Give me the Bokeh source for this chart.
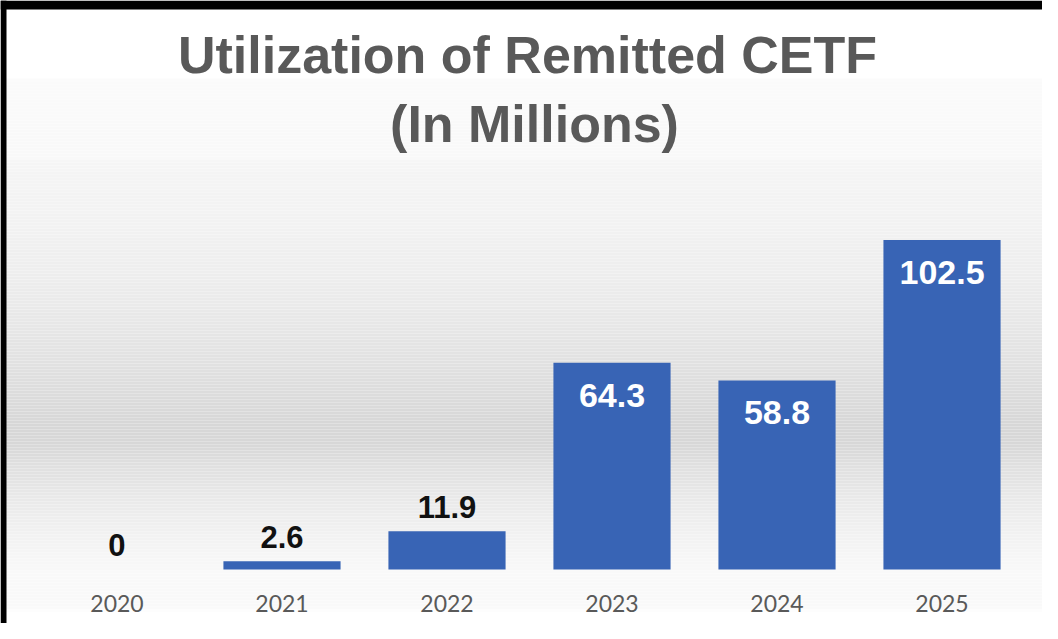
import numpy as np
from bokeh.plotting import figure
from bokeh.models import (ColumnDataSource, FixedTicker, Label, BoxAnnotation, Range1d)
from bokeh.core.properties import value
from bokeh.embed import file_html
from bokeh.resources import INLINE

# ---- data ----
years = ["2020", "2021", "2022", "2023", "2024", "2025"]
amounts = [0, 2.6, 11.9, 64.3, 58.8, 102.5]
title_line1 = "Utilization of Remitted CETF"
title_line2 = "(In Millions)"

idx = list(range(len(years)))
labels = [f"{v:g}" for v in amounts]
inside = [v > 30 for v in amounts]
BAR_W = 0.71

src_bar = ColumnDataSource(dict(x=idx, top=amounts))
src_out = ColumnDataSource(dict(
    x=[i for i, f in zip(idx, inside) if not f],
    y=[v for v, f in zip(amounts, inside) if not f],
    t=[l for l, f in zip(labels, inside) if not f]))
src_in = ColumnDataSource(dict(
    x=[i for i, f in zip(idx, inside) if f],
    y=[v for v, f in zip(amounts, inside) if f],
    t=[l for l, f in zip(labels, inside) if f]))

W, H = 1042, 623
p = figure(width=W, height=H, output_backend="svg", toolbar_location=None,
           x_range=Range1d(-0.706, 5.609), y_range=Range1d(-16.8, 177.0),
           y_axis_location=None, min_border_left=0, min_border_right=0,
           min_border_top=0, min_border_bottom=0)
p.background_fill_color = "#ffffff"
p.border_fill_color = "#ffffff"
p.outline_line_color = None
p.grid.visible = False

# background gradient (decorative bands; page-y -> grey level)
stops_y = [8, 85, 88, 165, 170, 230, 285, 325, 365, 395, 430, 452, 472, 502, 540, 568, 580, 615, 620, 640]
stops_g = [255, 255, 250, 249, 245, 242, 237, 232, 226, 221, 215, 215, 223, 232, 241, 247, 249, 249, 255, 255]
FB = 8 + H  # page y of frame bottom
for y0 in range(8, FB, 3):
    g = int(round(np.interp(y0 + 1.5, stops_y, stops_g)))
    col = "#%02x%02x%02x" % (g, g, g)
    p.add_layout(BoxAnnotation(top=FB - y0, bottom=max(FB - (y0 + 3), 0),
                               top_units="screen", bottom_units="screen",
                               fill_color=col, fill_alpha=1.0, line_color=None, level="underlay"))

# black frame edges (left and top) of the original screenshot
p.add_layout(BoxAnnotation(left=0, right=6, left_units="screen", right_units="screen",
                           fill_color="black", fill_alpha=1.0, line_color=None, level="overlay"))
p.add_layout(BoxAnnotation(top=H, bottom=H - 9, top_units="screen", bottom_units="screen",
                           fill_color="black", fill_alpha=1.0, line_color=None, level="overlay"))

p.vbar(x="x", top="top", bottom=0, width=BAR_W, source=src_bar,
       fill_color="#3864b5", line_color=None)

p.text(x="x", y="y", text="t", source=src_out, text_align="center", text_baseline="alphabetic",
       y_offset=-24, text_font=value("Liberation Sans"), text_font_style="bold",
       text_font_size="31px", text_color="#111111")
p.text(x="x", y="y", text="t", source=src_in, text_align="center", text_baseline="top",
       y_offset=21, text_font=value("Liberation Sans"), text_font_style="bold",
       text_font_size="34px", text_color="#ffffff")

p.add_layout(Label(x=527, y=569, x_units="screen", y_units="screen", text=title_line1,
                   text_align="center", text_baseline="alphabetic",
                   text_font="Liberation Sans", text_font_style="bold",
                   text_font_size="52px", text_color="#595959"))
p.add_layout(Label(x=534, y=500, x_units="screen", y_units="screen", text=title_line2,
                   text_align="center", text_baseline="alphabetic",
                   text_font="Liberation Sans", text_font_style="bold",
                   text_font_size="52px", text_color="#595959"))

ax = p.xaxis[0]
ax.fixed_location = 0
ax.ticker = FixedTicker(ticks=idx)
ax.major_label_overrides = {i: y for i, y in zip(idx, years)}
ax.axis_line_color = None
ax.major_tick_line_color = None
ax.minor_tick_line_color = None
ax.major_label_standoff = 20
ax.major_label_text_font = "Lato"
ax.major_label_text_font_size = "23px"
ax.major_label_text_color = "#595959"

open("out.html", "w").write(file_html(p, INLINE))
